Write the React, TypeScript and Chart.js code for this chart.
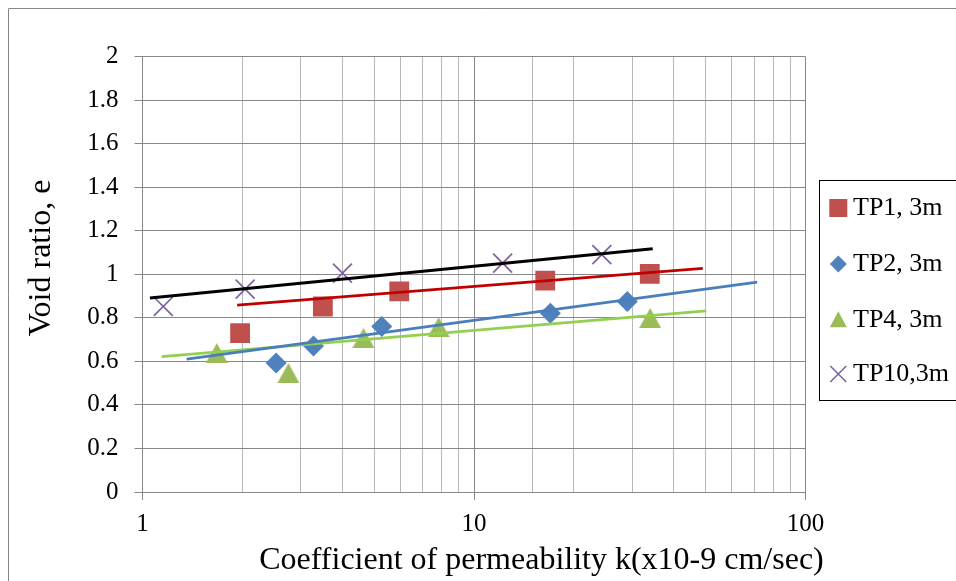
import React, { useEffect, useRef } from 'react';
import { Chart, registerables } from 'chart.js';

Chart.register(...registerables);

// ---- data ----
const seriesNames = ['TP1, 3m', 'TP2, 3m', 'TP4, 3m', 'TP10,3m'];

const tp1K = [1.97, 3.5, 5.95, 16.4, 33.9];
const tp1E = [0.73, 0.852, 0.921, 0.971, 1.002];

const tp2K = [2.53, 3.28, 5.27, 17.0, 29.0];
const tp2E = [0.592, 0.671, 0.76, 0.821, 0.875];

const tp4K = [1.675, 2.755, 4.64, 7.82, 34.0];
const tp4E = [0.638, 0.546, 0.707, 0.757, 0.799];

const tp10K = [1.155, 2.04, 4.01, 12.2, 24.3];
const tp10E = [0.852, 0.932, 1.005, 1.051, 1.09];

// logarithmic trend lines (end points)
const trendTP1K = [1.93, 49.0];
const trendTP1E = [0.858, 1.027];
const trendTP2K = [1.359, 71.5];
const trendTP2E = [0.61, 0.964];
const trendTP4K = [1.143, 50.2];
const trendTP4E = [0.622, 0.832];
const trendTP10K = [1.053, 34.6];
const trendTP10E = [0.8905, 1.117];

const xMin = 1;
const xMax = 100;
const yMin = 0;
const yMax = 2;
const yStep = 0.2;

const xTitle = 'Coefficient of permeability k(x10-9 cm/sec)';
const yTitle = 'Void ratio, e';

const FONT = "'Liberation Serif', 'Times New Roman', serif";
const C_RED = '#C0504D';
const C_BLUE = '#4F81BD';
const C_GREEN = '#9BBB59';
const C_PURPLE = '#8064A2';
const GRID_DARK = '#878787';
const GRID_LIGHT = '#b7b7b7';

const pts = (ks: number[], es: number[]) => ks.map((k, i) => ({ x: k, y: es[i] }));
const isPow10 = (v: number) => {
  const l = Math.log10(v);
  return Math.abs(l - Math.round(l)) < 1e-9;
};

function makeTriangle(w: number, h: number, color: string) {
  const c = document.createElement('canvas');
  c.width = w;
  c.height = h;
  const g = c.getContext('2d')!;
  g.fillStyle = color;
  g.beginPath();
  g.moveTo(w / 2, 0);
  g.lineTo(w, h);
  g.lineTo(0, h);
  g.closePath();
  g.fill();
  return c;
}

const decorPlugin = {
  id: 'decor',
  beforeDraw(chart: any) {
    const ctx = chart.ctx;
    ctx.save();
    ctx.strokeStyle = '#888888';
    ctx.lineWidth = 1;
    ctx.beginPath();
    ctx.moveTo(0.5, chart.height + 5);
    ctx.lineTo(0.5, 0.5);
    ctx.lineTo(chart.width + 5, 0.5);
    ctx.stroke();
    ctx.restore();
  },
  afterDraw(chart: any) {
    const ctx = chart.ctx;
    ctx.save();
    ctx.fillStyle = '#000';
    // y title
    ctx.save();
    ctx.translate(42, 250);
    ctx.rotate(-Math.PI / 2);
    ctx.font = `32px ${FONT}`;
    ctx.textAlign = 'center';
    ctx.textBaseline = 'alphabetic';
    ctx.fillText(yTitle, 0, 0);
    ctx.restore();
    // x title
    ctx.font = `32px ${FONT}`;
    ctx.textAlign = 'center';
    ctx.textBaseline = 'alphabetic';
    ctx.fillText(xTitle, 533.5, 561);

    // legend
    ctx.strokeStyle = '#000';
    ctx.lineWidth = 1;
    ctx.strokeRect(811.5, 172.5, 300, 220);
    const rows = [200, 256, 311.3, 366];
    const mx = 830.3;
    // square
    ctx.fillStyle = C_RED;
    ctx.fillRect(mx - 9, rows[0] - 9, 18, 18);
    // diamond
    ctx.fillStyle = C_BLUE;
    ctx.beginPath();
    ctx.moveTo(mx - 8.5, rows[1]);
    ctx.lineTo(mx, rows[1] - 8.5);
    ctx.lineTo(mx + 8.5, rows[1]);
    ctx.lineTo(mx, rows[1] + 8.5);
    ctx.closePath();
    ctx.fill();
    // triangle
    ctx.fillStyle = C_GREEN;
    ctx.beginPath();
    ctx.moveTo(mx, rows[2] - 8);
    ctx.lineTo(mx + 8.5, rows[2] + 8);
    ctx.lineTo(mx - 8.5, rows[2] + 8);
    ctx.closePath();
    ctx.fill();
    // x
    ctx.strokeStyle = C_PURPLE;
    ctx.lineWidth = 1.6;
    ctx.beginPath();
    ctx.moveTo(mx - 8, rows[3] - 8);
    ctx.lineTo(mx + 8, rows[3] + 8);
    ctx.moveTo(mx + 8, rows[3] - 8);
    ctx.lineTo(mx - 8, rows[3] + 8);
    ctx.stroke();

    ctx.fillStyle = '#000';
    ctx.font = `26px ${FONT}`;
    ctx.textAlign = 'left';
    ctx.textBaseline = 'middle';
    seriesNames.forEach((n, i) => ctx.fillText(n, 845, rows[i] + 0.5));
    ctx.restore();
  },
};

export default function App() {
  const ref = useRef<HTMLCanvasElement | null>(null);

  useEffect(() => {
    if (!ref.current) return;
    const tri = makeTriangle(22, 20, C_GREEN);
    const trend = (ks: number[], es: number[], color: string, w: number) => ({
      data: pts(ks, es),
      showLine: true,
      borderColor: color,
      backgroundColor: color,
      borderWidth: w,
      pointRadius: 0,
      fill: false,
      tension: 0,
      order: 0,
    });
    const chart = new Chart(ref.current, {
      type: 'scatter',
      data: {
        datasets: [
          {
            label: seriesNames[0],
            data: pts(tp1K, tp1E),
            pointStyle: 'rect',
            pointRadius: 14,
            backgroundColor: C_RED,
            borderColor: C_RED,
            borderWidth: 0,
            order: 1,
          },
          {
            label: seriesNames[1],
            data: pts(tp2K, tp2E),
            pointStyle: 'rectRot',
            pointRadius: 10.5,
            backgroundColor: C_BLUE,
            borderColor: C_BLUE,
            borderWidth: 0,
            order: 1,
          },
          {
            label: seriesNames[2],
            data: pts(tp4K, tp4E),
            pointStyle: tri as any,
            pointRadius: 10,
            backgroundColor: C_GREEN,
            borderColor: C_GREEN,
            borderWidth: 0,
            order: 1,
          },
          {
            label: seriesNames[3],
            data: pts(tp10K, tp10E),
            pointStyle: 'crossRot',
            pointRadius: 13.4,
            backgroundColor: C_PURPLE,
            borderColor: C_PURPLE,
            borderWidth: 1.75,
            order: 1,
          },
          trend(trendTP1K, trendTP1E, '#C00000', 2.75),
          trend(trendTP2K, trendTP2E, '#4A7EBB', 2.75),
          trend(trendTP4K, trendTP4E, '#92D050', 2.75),
          trend(trendTP10K, trendTP10E, '#000000', 3),
        ] as any,
      },
      options: {
        responsive: false,
        animation: false,
        events: [],
        layout: { padding: { left: 0, top: 48.5, right: 150.5, bottom: 0 } },
        plugins: {
          legend: { display: false },
          tooltip: { enabled: false },
          title: { display: false },
        },
        scales: {
          x: {
            type: 'logarithmic',
            min: xMin,
            max: xMax,
            afterFit: (s: any) => {
              s.height = 89;
            },
            grid: {
              color: (c: any) => (c.tick && isPow10(c.tick.value) ? GRID_DARK : GRID_LIGHT),
              tickColor: (c: any) => (c.tick && isPow10(c.tick.value) ? GRID_DARK : 'rgba(0,0,0,0)'),
              tickLength: 8,
              lineWidth: 1,
            },
            border: { color: GRID_DARK, width: 1 },
            ticks: {
              autoSkip: false,
              maxRotation: 0,
              minRotation: 0,
              padding: 9,
              color: '#000',
              font: { family: FONT, size: 25 },
              callback: (v: any) => (isPow10(Number(v)) ? String(Number(v)) : ''),
            },
          },
          y: {
            type: 'linear',
            min: yMin,
            max: yMax,
            afterFit: (s: any) => {
              s.width = 134.5;
            },
            grid: {
              color: GRID_DARK,
              tickColor: GRID_DARK,
              tickLength: 8,
              lineWidth: 1,
            },
            border: { color: GRID_DARK, width: 1 },
            ticks: {
              stepSize: yStep,
              padding: 16,
              color: '#000',
              font: { family: FONT, size: 25 },
              callback: (v: any) => String(Math.round(Number(v) * 10) / 10),
            },
          },
        },
      } as any,
      plugins: [decorPlugin],
    });
    return () => chart.destroy();
  }, []);

  return (
    <div style={{ position: 'fixed', left: 8, top: 8, width: 948, height: 573, overflow: 'hidden' }}>
      <canvas ref={ref} width={948} height={573} style={{ display: 'block' }} />
    </div>
  );
}
